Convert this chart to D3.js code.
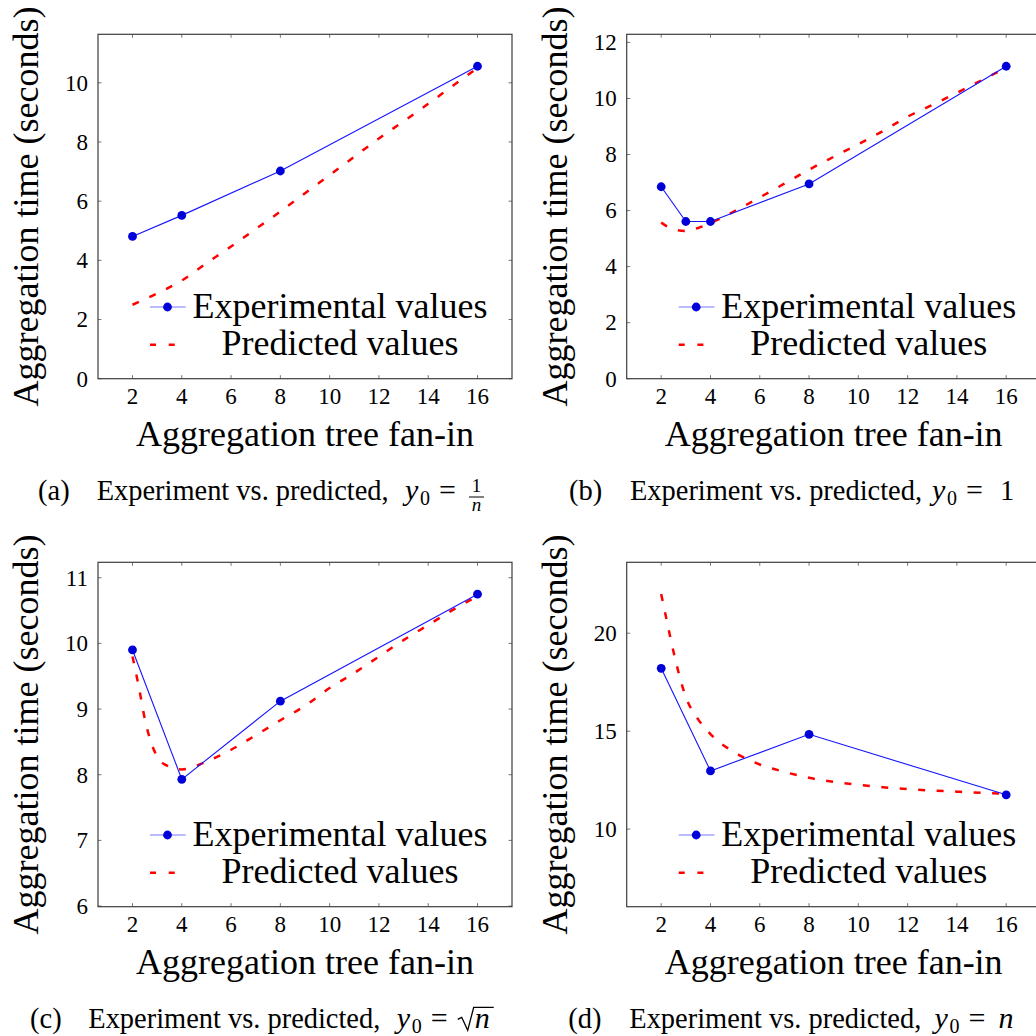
<!DOCTYPE html>
<html>
<head>
<meta charset="utf-8">
<script src="https://cdn.jsdelivr.net/npm/d3@7"></script>
<style>
body { margin: 0; background: #fff; }
text { font-family: "Liberation Serif", "Times New Roman", serif; fill: #000; }
</style>
</head>
<body>
<svg id="chart" width="1036" height="1036"></svg>
<script>
'use strict';

// x ticks shared by all four panels
const xTickValues = [2, 4, 6, 8, 10, 12, 14, 16];

// (a) y0 = 1/n
const expXA = [2, 4, 8, 16];
const expYA = [4.81, 5.52, 7.02, 10.56];
const predXA = [2, 3, 4, 5, 6, 7, 8, 9, 10, 11, 12, 13, 14, 15, 16];
const predYA = [2.5, 2.88, 3.32, 3.9, 4.47, 5.06, 5.65, 6.27, 6.88, 7.5, 8.12, 8.7, 9.29, 9.9, 10.5];
const yTicksA = [0, 2, 4, 6, 8, 10];

// (b) y0 = 1
const expXB = [2, 3, 4, 8, 16];
const expYB = [6.85, 5.61, 5.61, 6.95, 11.15];
const predXB = [2, 2.5, 3, 3.5, 4, 5, 6, 7, 8, 9, 10, 11, 12, 13, 14, 15, 16];
const predYB = [5.57, 5.33, 5.27, 5.38, 5.55, 5.99, 6.47, 6.96, 7.46, 7.92, 8.37, 8.84, 9.35, 9.77, 10.2, 10.65, 11.1];
const yTicksB = [0, 2, 4, 6, 8, 10, 12];

// (c) y0 = sqrt(n)
const expXC = [2, 4, 8, 16];
const expYC = [9.9, 7.93, 9.12, 10.75];
const predXC = [2, 2.25, 2.5, 3, 3.5, 4, 5, 6, 7, 8, 9, 10, 11, 12, 13, 14, 15, 16];
const predYC = [9.8, 9.35, 8.85, 8.28, 8.12, 8.08, 8.2, 8.38, 8.6, 8.83, 9.05, 9.32, 9.55, 9.8, 10.05, 10.28, 10.51, 10.72];
const yTicksC = [6, 7, 8, 9, 10, 11];

// (d) y0 = n
const expXD = [2, 4, 8, 16];
const expYD = [18.21, 12.97, 14.84, 11.75];
const predXD = [2, 2.25, 2.5, 3, 3.5, 4, 5, 6, 7, 8, 9, 10, 11, 12, 13, 14, 15, 16];
const predYD = [22.0, 20.5, 19.05, 16.75, 15.6, 14.85, 13.9, 13.3, 12.92, 12.62, 12.41, 12.26, 12.14, 12.04, 11.97, 11.91, 11.85, 11.8];
const yTicksD = [10, 15, 20];

const legendLabels = ["Experimental values", "Predicted values"];
const xLabel = "Aggregation tree fan-in";
const yLabel = "Aggregation time (seconds)";
const captionText = "Experiment vs. predicted,";

const serieColor = "#1515ff", markColor = "#0000d8", predColor = "#ff0000";

const svg = d3.select("#chart");
svg.append("rect").attr("width", 1036).attr("height", 1036).attr("fill", "#fff");

const panels = [
    { letter: "(a)", left: 98, top: 34.3, yDomain: [0, 11.64], yTicks: yTicksA,
      ex: expXA, ey: expYA, px: predXA, py: predYA,
      cap: { letterX: 38, textX: 96.7, y: 500, mathX: 405, math: "frac" } },
    { letter: "(b)", left: 626.7, top: 34.3, yDomain: [0, 12.29], yTicks: yTicksB,
      ex: expXB, ey: expYB, px: predXB, py: predYB,
      cap: { letterX: 569, textX: 630, y: 500, mathX: 932, math: "one" } },
    { letter: "(c)", left: 98, top: 562.3, yDomain: [5.99, 11.235], yTicks: yTicksC,
      ex: expXC, ey: expYC, px: predXC, py: predYC,
      cap: { letterX: 30, textX: 88.3, y: 1028.3, mathX: 396.7, math: "sqrt" } },
    { letter: "(d)", left: 626.7, top: 562.3, yDomain: [6.04, 23.62], yTicks: yTicksD,
      ex: expXD, ey: expYD, px: predXD, py: predYD,
      cap: { letterX: 568.3, textX: 629.3, y: 1028.3, mathX: 934.5, math: "n" } }
];

const width = 414, height = 344.4;

const drawCaption = (c, p) => {
    const g = svg.append("g");
    g.append("text").attr("x", c.letterX).attr("y", c.y).attr("font-size", 28.5).text(p.letter);
    g.append("text").attr("x", c.textX).attr("y", c.y).attr("font-size", 28.5)
        .attr("textLength", 292).attr("lengthAdjust", "spacingAndGlyphs")
        .text(captionText);

    const mx = c.mathX;
    g.append("text").attr("x", mx).attr("y", c.y).attr("font-size", 30)
        .attr("font-style", "italic").text("y");
    g.append("text").attr("x", mx + 15).attr("y", c.y + 5).attr("font-size", 20).text("0");
    g.append("text").attr("x", mx + 34).attr("y", c.y).attr("font-size", 30).text("=");

    if (c.math === "frac") {
        const fx = mx + 71.5;
        g.append("text").attr("x", fx).attr("y", c.y - 8).attr("font-size", 19)
            .attr("text-anchor", "middle").text("1");
        g.append("line").attr("x1", fx - 7.5).attr("x2", fx + 7.5)
            .attr("y1", c.y - 3).attr("y2", c.y - 3).attr("stroke", "#000").attr("stroke-width", 1);
        g.append("text").attr("x", fx).attr("y", c.y + 11).attr("font-size", 19)
            .attr("font-style", "italic").attr("text-anchor", "middle").text("n");
    } else if (c.math === "one") {
        g.append("text").attr("x", mx + 68).attr("y", c.y).attr("font-size", 28.5).text("1");
    } else if (c.math === "sqrt") {
        const sx = mx + 61;
        g.append("path")
            .attr("d", `M${sx},${c.y - 9} L${sx + 4},${c.y - 11} L${sx + 10},${c.y + 2} L${sx + 16},${c.y - 21} L${sx + 36},${c.y - 21}`)
            .attr("fill", "none").attr("stroke", "#000").attr("stroke-width", 1.3);
        g.append("text").attr("x", sx + 17).attr("y", c.y).attr("font-size", 30)
            .attr("font-style", "italic").text("n");
    } else {
        g.append("text").attr("x", mx + 64).attr("y", c.y).attr("font-size", 30)
            .attr("font-style", "italic").text("n");
    }
};

const drawPanel = p => {
    const x = d3.scaleLinear().domain([0.6, 17.4]).range([p.left, p.left + width]);
    const y = d3.scaleLinear().domain(p.yDomain).range([p.top + height, p.top]);
    const bottom = p.top + height, right = p.left + width;

    const g = svg.append("g");

    // small ticks inside the frame, on all four sides
    const tickLen = 3.5;
    g.selectAll("path.ytick").data(p.yTicks).join("path")
        .attr("class", "ytick")
        .attr("d", d => `M${p.left},${y(d)}h${tickLen}M${right},${y(d)}h${-tickLen}`)
        .attr("stroke", "#777").attr("stroke-width", 1);
    g.selectAll("path.xtick").data(xTickValues).join("path")
        .attr("class", "xtick")
        .attr("d", d => `M${x(d)},${bottom}v${-tickLen}M${x(d)},${p.top}v${tickLen}`)
        .attr("stroke", "#777").attr("stroke-width", 1);

    g.selectAll("text.ytick").data(p.yTicks).join("text")
        .attr("class", "ytick")
        .attr("x", p.left - 10).attr("y", d => y(d))
        .attr("dy", "0.34em")
        .attr("text-anchor", "end")
        .attr("font-size", 23)
        .text(d => d);

    g.selectAll("text.xtick").data(xTickValues).join("text")
        .attr("class", "xtick")
        .attr("x", d => x(d)).attr("y", bottom + 25)
        .attr("text-anchor", "middle")
        .attr("font-size", 23)
        .text(d => d);

    // frame
    g.append("rect")
        .attr("x", p.left).attr("y", p.top)
        .attr("width", width).attr("height", height)
        .attr("fill", "none").attr("stroke", "#3c3c3c").attr("stroke-width", 1.2);

    // axis labels
    g.append("text")
        .attr("x", p.left + width / 2).attr("y", bottom + 67)
        .attr("text-anchor", "middle").attr("font-size", 36)
        .text(xLabel);

    g.append("text")
        .attr("transform", `translate(${p.left - 60},${p.top + height / 2}) rotate(-90)`)
        .attr("text-anchor", "middle").attr("font-size", 36)
        .text(yLabel);

    // predicted (dashed)
    const predLine = d3.line()
        .curve(d3.curveMonotoneX)
        .x((d, i) => x(p.px[i]))
        .y(d => y(d));

    g.append("path")
        .attr("d", predLine(p.py))
        .attr("fill", "none").attr("stroke", predColor)
        .attr("stroke-width", 2.5).attr("stroke-dasharray", "7,11.5");

    // experimental (solid + marks)
    const expLine = d3.line()
        .x((d, i) => x(p.ex[i]))
        .y(d => y(d));

    g.append("path")
        .attr("d", expLine(p.ey))
        .attr("fill", "none").attr("stroke", serieColor).attr("stroke-width", 1.1);

    g.selectAll("circle.mark").data(p.ey).join("circle")
        .attr("class", "mark")
        .attr("cx", (d, i) => x(p.ex[i])).attr("cy", d => y(d))
        .attr("r", 4.4)
        .attr("fill", markColor);

    // legend, lower right inside the plot
    const lg = g.append("g").attr("transform", `translate(${p.left},${bottom})`);
    lg.append("line")
        .attr("x1", 52).attr("x2", 87.7).attr("y1", -71.7).attr("y2", -71.7)
        .attr("stroke", "#7878ff").attr("stroke-width", 1.1);
    lg.append("circle").attr("cx", 69.5).attr("cy", -71.7).attr("r", 4.4).attr("fill", markColor);
    lg.append("line")
        .attr("x1", 52).attr("x2", 77.7).attr("y1", -34).attr("y2", -34)
        .attr("stroke", predColor).attr("stroke-width", 2.5).attr("stroke-dasharray", "6,12.7");
    lg.selectAll("text").data(legendLabels).join("text")
        .attr("x", 242)
        .attr("y", (d, i) => i === 0 ? -60.7 : -23.7)
        .attr("text-anchor", "middle")
        .attr("font-size", 36)
        .text(d => d);

    drawCaption(p.cap, p);
};

panels.forEach(drawPanel);
</script>
</body>
</html>
